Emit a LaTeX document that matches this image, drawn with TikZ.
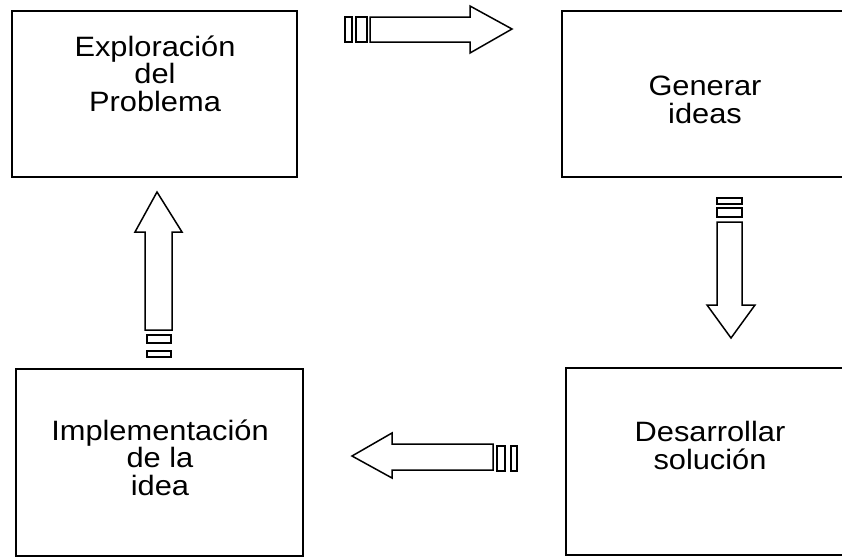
\documentclass[tikz,border=0pt]{standalone}
\usepackage{fontspec}
\setmainfont{Liberation Sans}[FakeStretch=1.1]
\begin{document}
\begin{tikzpicture}[x=1pt,y=-1pt,
  box/.style={draw=black,line width=1.6pt},
  lbl/.style={align=center,inner sep=0pt,font=\fontsize{28}{27.5}\selectfont,anchor=base},
  blk/.style={draw=black,line width=1.5pt,fill=white,line join=miter}]
\useasboundingbox (0,0) rectangle (842,557);
% boxes
\draw[box] (12,11) rectangle (297,177);
\draw[box] (562,11) rectangle (850,177);
\draw[box] (16,369) rectangle (303,556);
\draw[box] (566,368) rectangle (850,555);
% labels (anchor base = baseline of last line)
\node[lbl] (t1) at (155,111) {Exploración\\del\\Problema};
\node[lbl] (t2) at (705,123) {Generar\\ideas};
\node[lbl] (t3) at (160,495) {Implementación\\de la\\idea};
\node[lbl] (t4) at (710,469) {Desarrollar\\solución};
% top arrow (right)
\draw[blk] (370,17) -- (470,17) -- (470,6) -- (512,29) -- (470,53) -- (470,42) -- (370,42) -- cycle;
\draw[blk] (345,17) rectangle (352,42);
\draw[blk] (356,17) rectangle (367,42);
% right arrow (down)
\draw[blk] (717,222) -- (717,305) -- (707,305) -- (731,338) -- (755,305) -- (742,305) -- (742,222) -- cycle;
\draw[blk] (717,198) rectangle (742,204);
\draw[blk] (717,208) rectangle (742,217);
% bottom arrow (left)
\draw[blk] (493,444) -- (392,444) -- (392,433) -- (352,456) -- (392,478) -- (392,470) -- (493,470) -- cycle;
\draw[blk] (497,446) rectangle (505,471);
\draw[blk] (511,446) rectangle (517,471);
% left arrow (up)
\draw[blk] (145,330) -- (145,232) -- (135,232) -- (157,192) -- (182,232) -- (172,232) -- (172,330) -- cycle;
\draw[blk] (147,335) rectangle (171,343);
\draw[blk] (147,351) rectangle (171,357);
\end{tikzpicture}
\end{document}
